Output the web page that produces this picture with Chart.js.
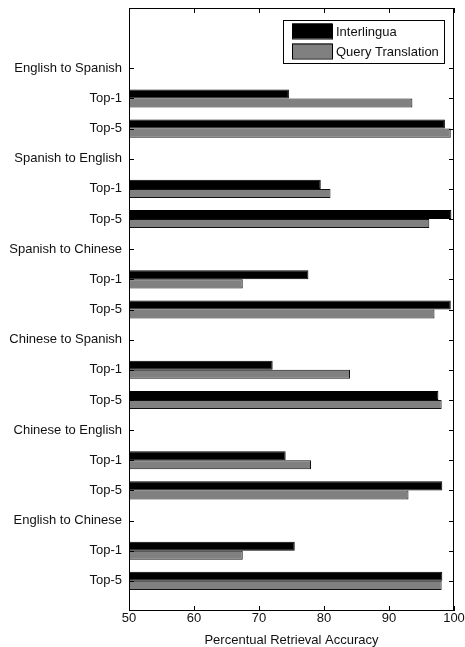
<!DOCTYPE html>
<html><head><meta charset="utf-8">
<script src="https://cdn.jsdelivr.net/npm/chart.js@4/dist/chart.umd.min.js"></script>
<style>html,body{margin:0;padding:0;background:#fff}#wrap{width:465px;height:647px;position:relative}</style>
</head><body><div id="wrap"><canvas id="c"></canvas></div>
<script>
const categories = ["English to Spanish","Top-1","Top-5","Spanish to English","Top-1","Top-5","Spanish to Chinese","Top-1","Top-5","Chinese to Spanish","Top-1","Top-5","Chinese to English","Top-1","Top-5","English to Chinese","Top-1","Top-5"];
const interlingua =      [null,74.6,98.6,null,79.5,99.6,null,77.6,99.5,null,72.1,97.6,null,74.1,98.2,null,75.5,98.2];
const queryTranslation = [null,93.6,99.5,null,81.0,96.2,null,67.5,97.0,null,84.0,98.1,null,78.0,93.0,null,67.5,98.1];
const xTicks = [50,60,70,80,90,100];
const seriesNames = ["Interlingua","Query Translation"];
const xTitle = "Percentual Retrieval Accuracy";

const FONT = "'Liberation Sans', Arial, sans-serif";
const toPts = arr => arr.map((v,i)=> v==null ? null : {x:v, y:i}).filter(Boolean);

const framePlugin = {
  id:'frame',
  afterDatasetsDraw(chart){
    const {ctx, chartArea:a, scales:{x, y}} = chart;
    ctx.save();
    ctx.strokeStyle = '#000';
    ctx.lineWidth = 1;
    ctx.strokeRect(Math.round(a.left)+0.5, Math.round(a.top)+0.5, Math.round(a.right-a.left)-1, Math.round(a.bottom-a.top)-1);
    ctx.beginPath();
    const L = 5;
    xTicks.forEach(v=>{
      const px = Math.round(x.getPixelForValue(v))+0.5;
      ctx.moveTo(px, a.bottom); ctx.lineTo(px, a.bottom-L);
      ctx.moveTo(px, a.top); ctx.lineTo(px, a.top+L);
    });
    categories.forEach((_,i)=>{
      const py = Math.round(y.getPixelForValue(i))+0.5;
      ctx.moveTo(a.left, py); ctx.lineTo(a.left+L, py);
      ctx.moveTo(a.right, py); ctx.lineTo(a.right-L, py);
    });
    ctx.stroke();
    ctx.restore();
  },
  afterDraw(chart){
    const {ctx, chartArea:a} = chart;
    ctx.save();
    ctx.font = '13px ' + FONT;
    const tw = Math.max(...seriesNames.map(s=>ctx.measureText(s).width));
    const w = Math.round(53 + tw + 5), h = 43;
    const left = Math.round(a.right - 10 - w), top = Math.round(a.top + 12);
    ctx.fillStyle = '#fff';
    ctx.fillRect(left, top, w, h);
    ctx.strokeStyle = '#000'; ctx.lineWidth = 1;
    ctx.strokeRect(left+0.5, top+0.5, w, h);
    chart.data.datasets.forEach((ds, k)=>{
      const cy = top + 11 + k*20;
      ctx.fillStyle = ds.backgroundColor;
      ctx.fillRect(left+9, cy-7.5, 40, 15);
      ctx.strokeRect(left+9.5, cy-7, 40, 15);
      ctx.fillStyle = '#111';
      ctx.textBaseline = 'middle';
      ctx.textAlign = 'left';
      ctx.fillText(ds.label, left+53, cy+1);
    });
    ctx.restore();
  }
};

new Chart(document.getElementById('c'), {
  type:'bar',
  data:{
    datasets:[
      {label:seriesNames[0], data:toPts(interlingua), backgroundColor:'#000000', borderColor:'#000', borderWidth:1, borderSkipped:false, base:50},
      {label:seriesNames[1], data:toPts(queryTranslation), backgroundColor:'#808080', borderColor:'#111', borderWidth:1, borderSkipped:false, base:50}
    ]
  },
  options:{
    indexAxis:'y',
    responsive:true,
    maintainAspectRatio:false,
    animation:false,
    layout:{padding:{top:8, right:11, left:0, bottom:0}},
    datasets:{bar:{categoryPercentage:0.6, barPercentage:1.0}},
    plugins:{legend:{display:false}, tooltip:{enabled:false}},
    scales:{
      x:{
        type:'linear', position:'bottom', min:50, max:100, offset:false,
        afterBuildTicks: s => { s.ticks = xTicks.map(v=>({value:v})); },
        afterFit: s => { s.height = 36; s.paddingLeft = 0; s.paddingRight = 0; },
        grid:{display:false, drawTicks:false},
        border:{display:false},
        ticks:{font:{family:FONT, size:13}, color:'#111', padding:0, maxRotation:0, autoSkip:false},
        title:{display:true, text:xTitle, font:{family:FONT, size:13, lineHeight:1}, color:'#111', padding:{top:0,bottom:0}}
      },
      y:{
        type:'linear', reverse:true, min:-2, max:18, offset:false,
        afterBuildTicks: s => { s.ticks = categories.map((_,i)=>({value:i})); },
        afterFit: s => { s.width = 129; s.paddingTop = 0; s.paddingBottom = 0; },
        grid:{display:false, drawTicks:false, offset:false},
        border:{display:false},
        ticks:{font:{family:FONT, size:13}, color:'#111', padding:7, autoSkip:false,
               callback: v => categories[v] ?? ''}
      }
    }
  },
  plugins:[framePlugin]
});
</script></body></html>
